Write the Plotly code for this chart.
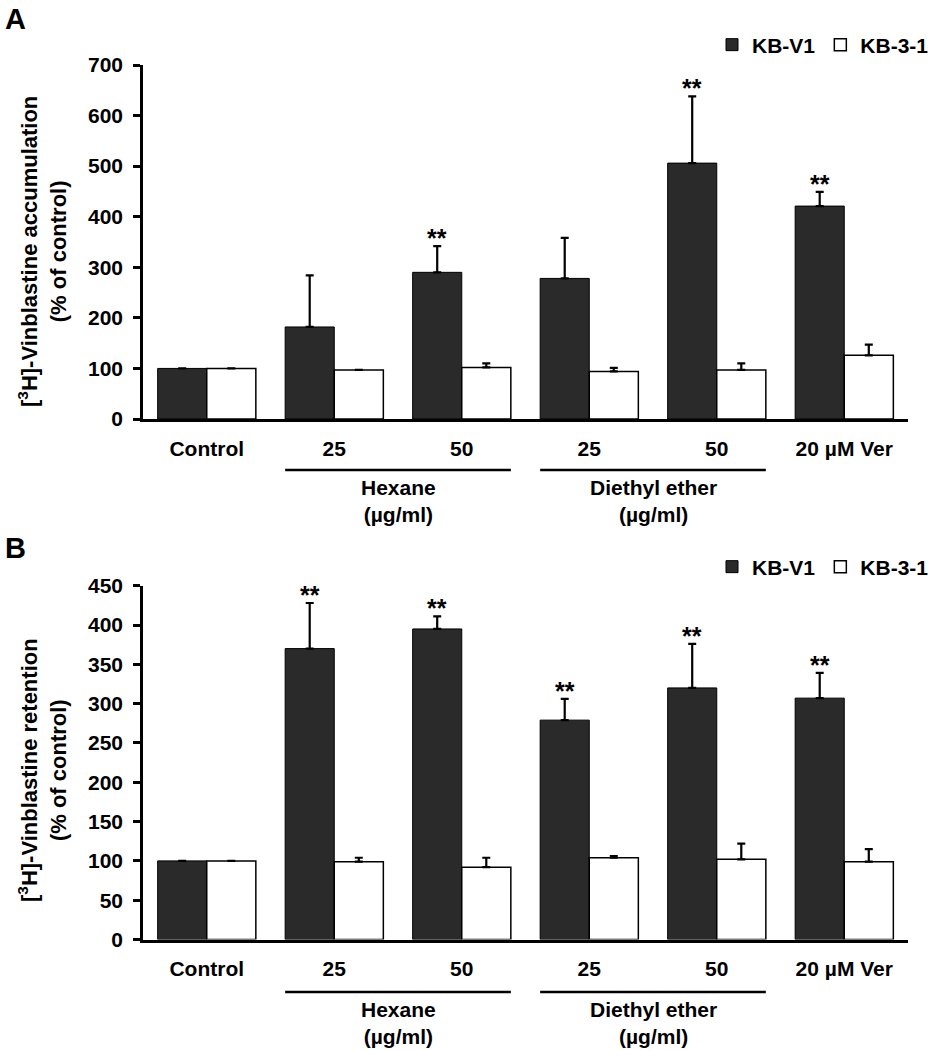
import plotly.graph_objects as go

categories = ["Control", "Hex25", "Hex50", "DE25", "DE50", "Ver"]
tick_labels = ["Control", "25", "50", "25", "50", "20 µM Ver"]
series_names = ["KB-V1", "KB-3-1"]

# Panel A: accumulation
a_kbv1 = [100, 182, 290, 278, 506, 421]
a_kbv1_err = [0, 102, 52, 80, 132, 28]
a_kb31 = [100, 97, 102, 94, 97, 126]
a_kb31_err = [0, 0, 8, 7, 13, 21]
a_sig = [False, False, True, False, True, True]

# Panel B: retention
b_kbv1 = [100, 370, 395, 279, 320, 307]
b_kbv1_err = [0, 58, 16, 27, 56, 32]
b_kb31 = [100, 99, 92, 104, 102, 99]
b_kb31_err = [0, 5, 12, 2, 20, 16]
b_sig = [False, True, True, True, True, True]

groups = [("Hexane<br>(µg/ml)", 1, 2), ("Diethyl ether<br>(µg/ml)", 3, 4)]

W, H = 934, 1050
FONT = "Liberation Sans, Arial, sans-serif"
BW = 0.385

fig = go.Figure()


def py(px):
    return 1 - px / H


panels = [
    dict(v1=a_kbv1, e1=a_kbv1_err, v2=a_kb31, e2=a_kb31_err, sig=a_sig,
         xa="x", ya="y", legend="legend", top=65, bot=419, rng=[0, 700], dt=100,
         title="[<sup>3</sup>H]-Vinblastine accumulation<br>(% of control)", title_y=252,
         letter="A", letter_y=1, line_y=470, grp_y=474),
    dict(v1=b_kbv1, e1=b_kbv1_err, v2=b_kb31, e2=b_kb31_err, sig=b_sig,
         xa="x2", ya="y2", legend="legend2", top=585.7, bot=939.5, rng=[0, 450], dt=50,
         title="[<sup>3</sup>H]-Vinblastine retention<br>(% of control)", title_y=770,
         letter="B", letter_y=530, line_y=992, grp_y=996),
]

for p in panels:
    fig.add_trace(go.Bar(
        x=categories, y=p["v1"], name=series_names[0], xaxis=p["xa"], yaxis=p["ya"],
        legend=p["legend"], width=BW, offset=-BW,
        marker=dict(color="#2a2a2a", line=dict(color="black", width=1)),
        error_y=dict(type="data", symmetric=False, array=p["e1"], arrayminus=[0] * len(p["e1"]),
                     color="black", thickness=2.2, width=4),
    ))
    fig.add_trace(go.Bar(
        x=categories, y=p["v2"], name=series_names[1], xaxis=p["xa"], yaxis=p["ya"],
        legend=p["legend"], width=BW, offset=0,
        marker=dict(color="white", line=dict(color="black", width=1.5)),
        error_y=dict(type="data", symmetric=False, array=p["e2"], arrayminus=[0] * len(p["e2"]),
                     color="black", thickness=2.2, width=4),
    ))
    xref = p["xa"]
    yref = p["ya"]
    for i, s in enumerate(p["sig"]):
        if s:
            fig.add_annotation(x=i - BW / 2, y=p["v1"][i] + p["e1"][i], xref=xref, yref=yref,
                               text="**", showarrow=False, yanchor="bottom", yshift=-8,
                               font=dict(family=FONT, size=25, color="black", weight="bold"))
    for label, i0, i1 in groups:
        fig.add_shape(type="line", xref=xref, yref="paper", x0=i0 - BW, x1=i1 + BW,
                      y0=py(p["line_y"]), y1=py(p["line_y"]), line=dict(color="black", width=2.5))
        fig.add_annotation(x=(i0 + i1) / 2, xref=xref, y=py(p["grp_y"]), yref="paper",
                           text=label, showarrow=False, yanchor="top",
                           font=dict(family=FONT, size=21, color="black", weight="bold"))
    fig.add_annotation(x=3 / W, xref="paper", y=py(p["letter_y"]), yref="paper", xanchor="left",
                       yanchor="top", text=p["letter"], showarrow=False,
                       font=dict(family=FONT, size=29, color="black", weight="bold"))
    fig.add_annotation(x=42 / W, xref="paper", y=py(p["title_y"]), yref="paper",
                       xanchor="center", yanchor="middle", textangle=-90,
                       text=p["title"], showarrow=False,
                       font=dict(family=FONT, size=22, color="black", weight="bold"))

axis_common_x = dict(
    domain=[143 / W, 908 / W], showline=True, linecolor="black", linewidth=2.5,
    ticks="", tickvals=categories, ticktext=tick_labels, range=[-0.5, 5.5],
    tickfont=dict(family=FONT, size=21, color="black", weight="bold"), ticklabelstandoff=9,
    showgrid=False, zeroline=False, type="category", automargin=False,
)


def yaxis(p):
    return dict(
        domain=[py(p["bot"]), py(p["top"])], range=p["rng"], dtick=p["dt"], tick0=0,
        showline=True, linecolor="black", linewidth=2.5, ticks="outside", ticklen=7,
        tickwidth=2.5, tickcolor="black", showgrid=False, zeroline=False,
        tickfont=dict(family=FONT, size=21, color="black", weight="bold"),
        ticklabelstandoff=6, automargin=False,
    )


legend_common = dict(
    orientation="h", xanchor="right", x=1.0, yanchor="middle", traceorder="normal",
    font=dict(family=FONT, size=21, color="black", weight="bold"), itemwidth=30,
    bgcolor="rgba(0,0,0,0)",
)

fig.update_layout(
    template="none",
    width=W, height=H, margin=dict(l=0, r=0, t=0, b=0, autoexpand=False),
    paper_bgcolor="white", plot_bgcolor="white",
    barmode="overlay",
    xaxis=dict(axis_common_x, anchor="y"),
    xaxis2=dict(axis_common_x, anchor="y2"),
    yaxis=dict(yaxis(panels[0]), anchor="x"),
    yaxis2=dict(yaxis(panels[1]), anchor="x2"),
    legend=dict(legend_common, y=py(45)),
    legend2=dict(legend_common, y=py(567)),
)

fig.write_html("out.html", config={"displayModeBar": False},
               post_script="document.body.style.margin='0';document.body.style.overflow='hidden';")
